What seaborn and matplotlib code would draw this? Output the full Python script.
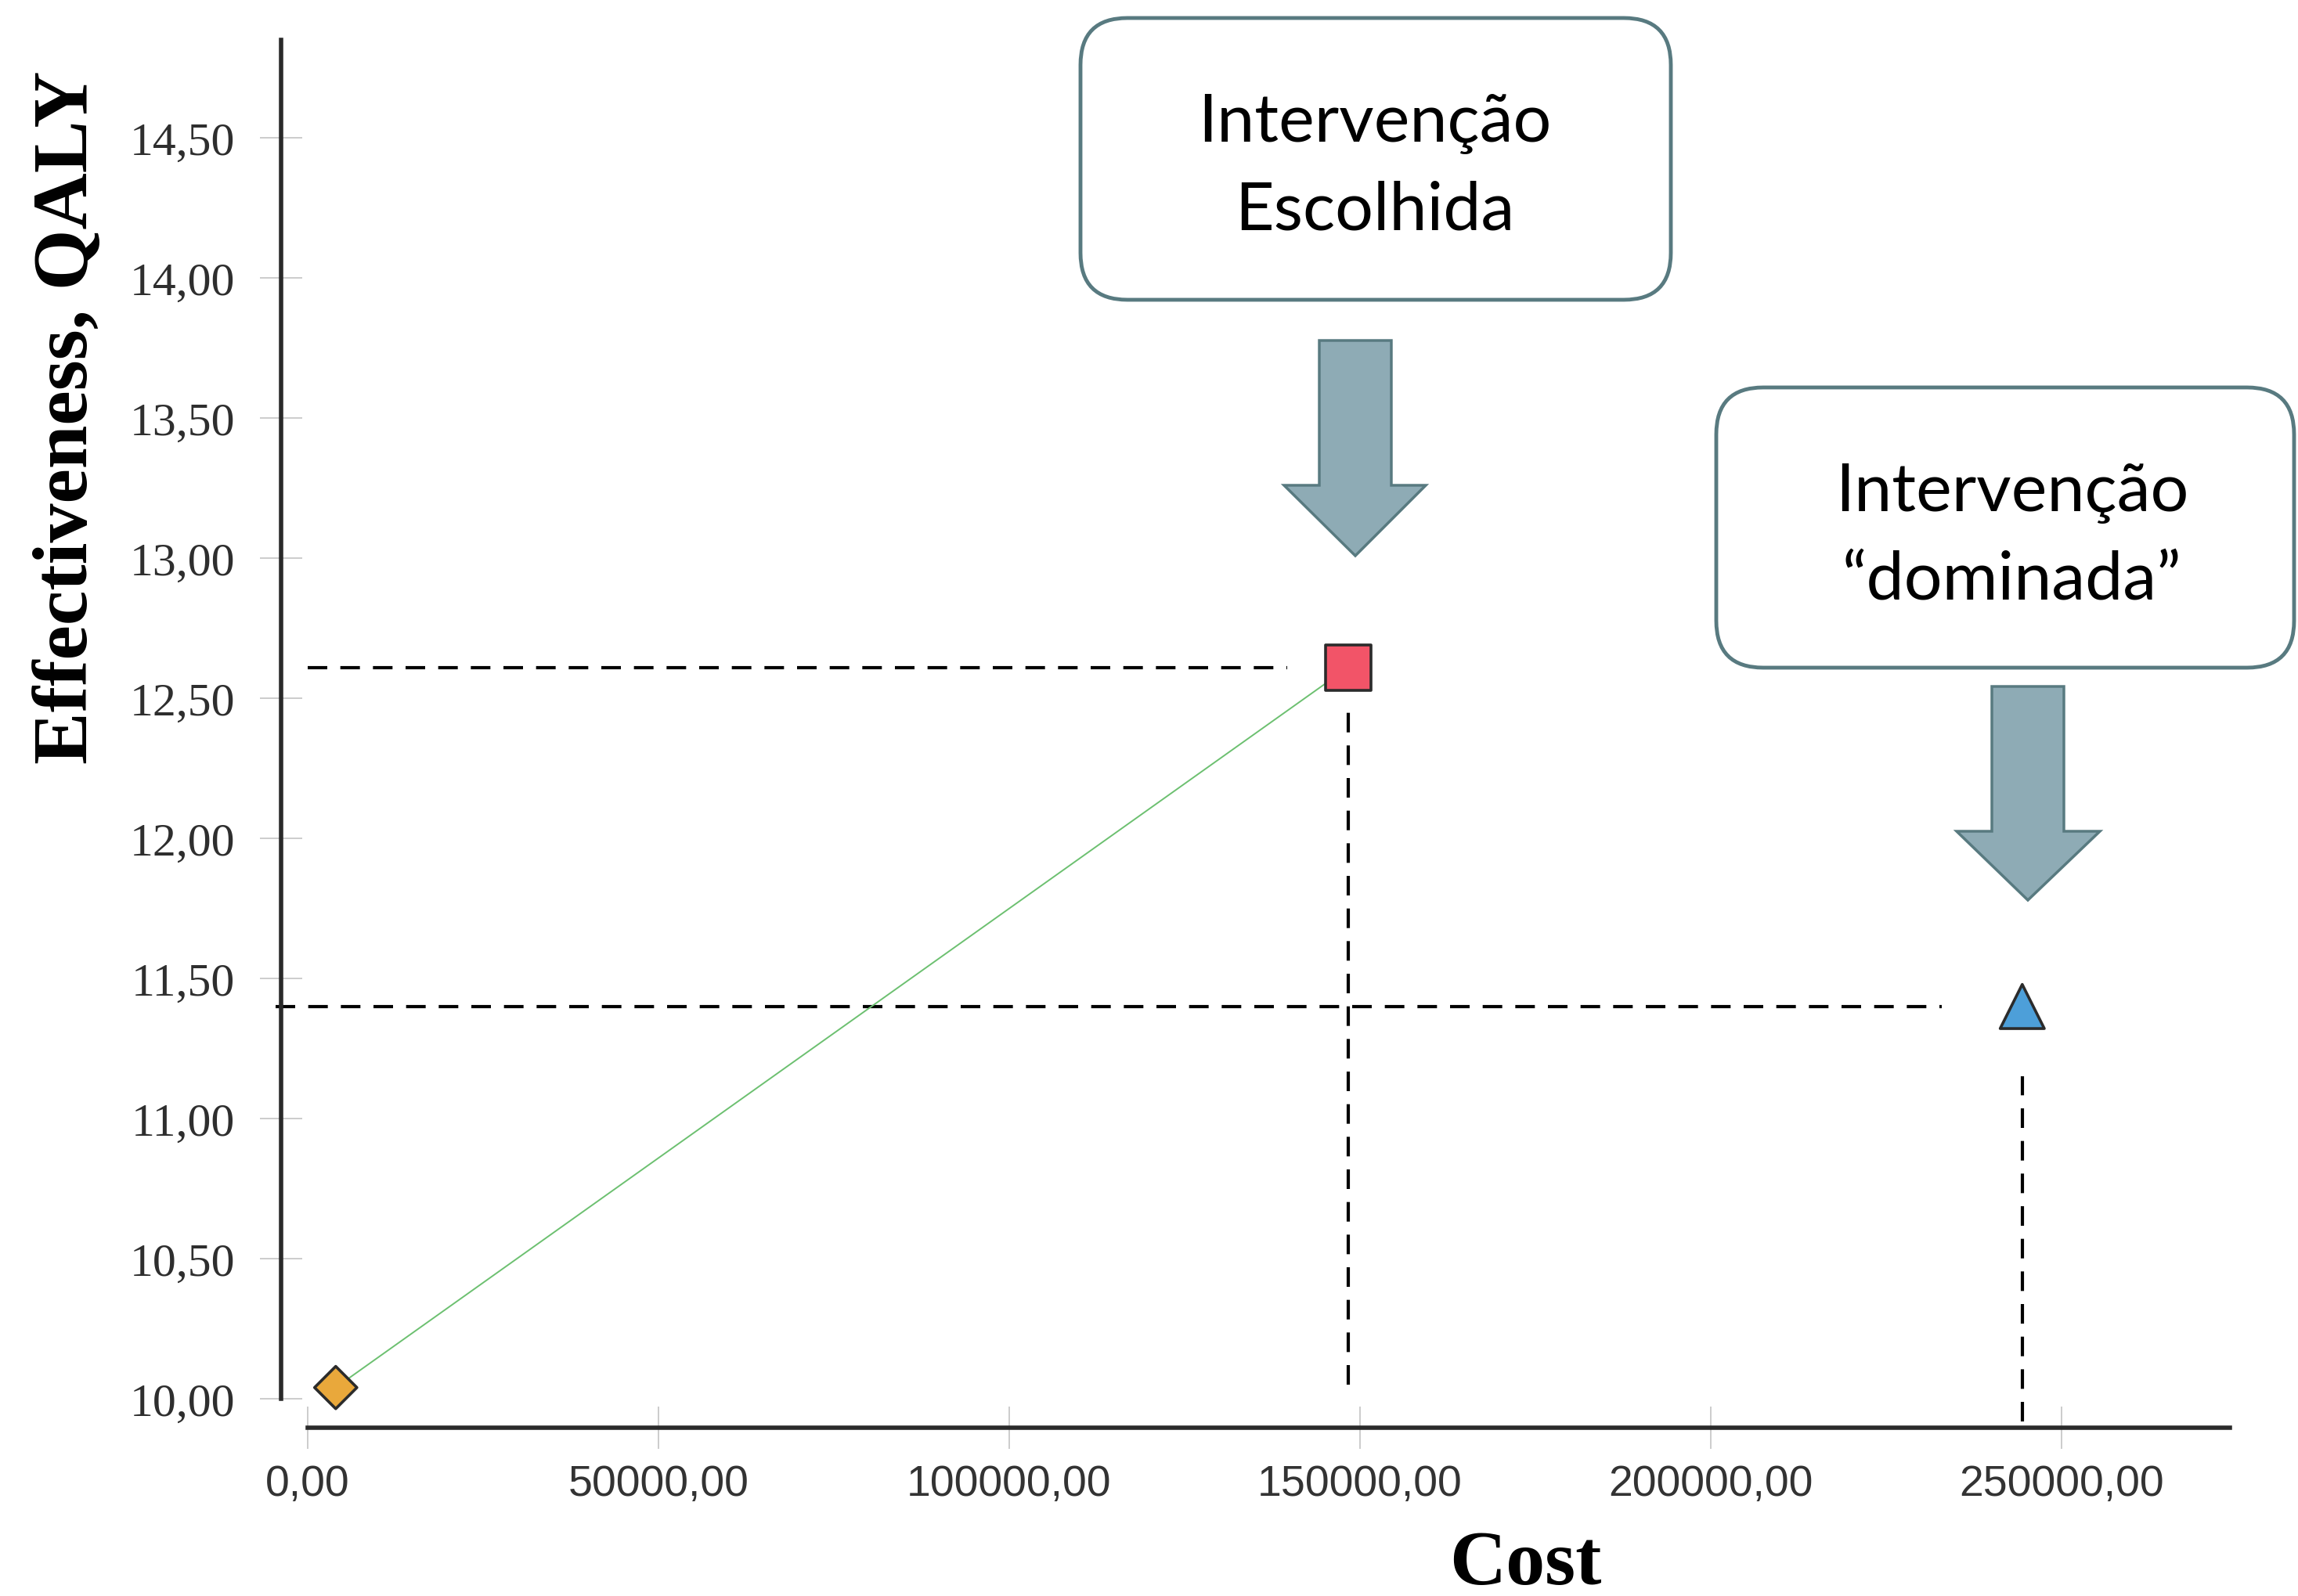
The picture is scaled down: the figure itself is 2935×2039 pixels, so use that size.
import pandas as pd
import matplotlib.pyplot as plt
import seaborn as sns
from matplotlib.patches import FancyBboxPatch, Polygon

# Dados (custo x efetividade)
estrategias = ["Estratégia A", "Estratégia B", "Estratégia C"]
custo = [4000, 148300, 244400]
efetividade = [10.04, 12.61, 11.40]
marcadores = ["D", "s", "^"]
cores = ["#e9a83b", "#f25468", "#4d9fd9"]
tamanhos = [760, 1750, 1650]

x_ticks = [0, 50000, 100000, 150000, 200000, 250000]
x_tick_labels = ["0,00", "50000,00", "100000,00", "150000,00", "200000,00", "250000,00"]
y_ticks = [10.0, 10.5, 11.0, 11.5, 12.0, 12.5, 13.0, 13.5, 14.0, 14.5]
y_tick_labels = ["10,00", "10,50", "11,00", "11,50", "12,00", "12,50", "13,00", "13,50", "14,00", "14,50"]

# linhas guia tracejadas (B = escolhida, C = dominada)
guia_idx = [1, 2]
guia_x_inicio = [0, -4600]
guia_x_folga = [8700, 11500]
guia_y_base = [10.05, 9.92]
guia_y_folga = [0.12, 0.25]

df = pd.DataFrame({"estrategia": estrategias, "custo": custo, "efetividade": efetividade})

sns.set_theme(style="white")
plt.rcParams["font.family"] = ["Liberation Serif", "DejaVu Sans"]

fig = plt.figure(figsize=(29.35, 20.40), dpi=100)
ax = fig.add_axes([0.11557, 0.09721, 0.86090, 0.89490])

# fronteira (linha verde)
sns.lineplot(data=df.iloc[:2], x="custo", y="efetividade", sort=False,
             color="#6cc070", linewidth=1.4, ax=ax, zorder=2)

# guias tracejadas
for i, k in enumerate(guia_idx):
    ax.hlines(efetividade[k], guia_x_inicio[i], custo[k] - guia_x_folga[i],
              colors="black", linestyles=(0, (6, 4)), linewidth=3, zorder=1)
    ax.vlines(custo[k], guia_y_base[i], efetividade[k] - guia_y_folga[i],
              colors="black", linestyles=(0, (6, 4)), linewidth=3, zorder=1)

sns.scatterplot(data=df, x="custo", y="efetividade", hue="estrategia", style="estrategia",
                size="estrategia", palette=dict(zip(estrategias, cores)),
                markers=dict(zip(estrategias, marcadores)),
                sizes=dict(zip(estrategias, tamanhos)),
                edgecolor="#2b2b2b", linewidth=2.6, legend=False, ax=ax, zorder=3)

ax.set_xlim(-6000, 276000)
ax.set_ylim(9.85, 14.95)

for s in ["top", "right"]:
    ax.spines[s].set_visible(False)
ax.spines["left"].set_position(("data", -3800))
ax.spines["bottom"].set_position(("data", 9.897))
ax.spines["left"].set_bounds(10, 14.85)
ax.spines["bottom"].set_bounds(0, 274000)
for s in ["left", "bottom"]:
    ax.spines[s].set_color("#2a2a2a")
    ax.spines[s].set_linewidth(4)

ax.tick_params(axis="both", direction="inout", length=39, width=1.2, color="#c4c4c4",
               labelcolor="#333333", bottom=True, left=True)
ax.tick_params(axis="y", pad=23)
ax.tick_params(axis="x", pad=14)

ax.set_xticks(x_ticks)
ax.set_xticklabels(x_tick_labels, family=["Liberation Sans", "DejaVu Sans"],
                   fontsize=40, color="#333333")
ax.set_yticks(y_ticks)
ax.set_yticklabels(y_tick_labels, fontsize=43, color="#2e2e2e")

ax.set_xlabel("Cost", fontsize=72, fontweight="bold", color="black")
ax.set_ylabel("Effectiveness, QALY", fontsize=72, fontweight="bold", color="black")
ax.xaxis.set_label_coords(0.6367, -0.062)
ax.yaxis.set_label_coords(-0.0820, 0.7169)

# caixas de anotação e setas (em polegadas da figura)
borda = "#587a80"
caixas = [(13.80, 16.56, 7.54, 3.60), (21.92, 11.86, 7.38, 3.58)]
textos = [("Intervenção", "Escolhida"), ("Intervenção", "\u201cdominada\u201d")]
texto_x = [17.56, 25.70]
texto_y = [(18.59, 17.46), (13.87, 12.74)]
setas = [(16.85, 17.77, 16.04, 14.19, 16.40, 18.21, 17.31, 13.29),
         (25.44, 26.36, 11.62, 9.77, 24.99, 26.82, 25.90, 8.89)]

for (x0, y0, w, h), (t1, t2), tx, (ty1, ty2) in zip(caixas, textos, texto_x, texto_y):
    fig.add_artist(FancyBboxPatch((x0, y0), w, h, boxstyle="round,pad=0,rounding_size=0.6",
                                  transform=fig.dpi_scale_trans, facecolor="white",
                                  edgecolor=borda, linewidth=3.5))
    for t, ty in [(t1, ty1), (t2, ty2)]:
        fig.text(tx, ty, t, transform=fig.dpi_scale_trans, ha="center", va="baseline",
                 fontsize=62, family=["Lato", "DejaVu Sans"], color="black")

for sx0, sx1, top, ombro, hx0, hx1, px, py in setas:
    fig.add_artist(Polygon([(sx0, top), (sx1, top), (sx1, ombro), (hx1, ombro), (px, py),
                            (hx0, ombro), (sx0, ombro)], closed=True,
                           transform=fig.dpi_scale_trans, facecolor="#8eabb5",
                           edgecolor=borda, linewidth=2.5, joinstyle="miter"))

fig.savefig("out.png", dpi=100)
